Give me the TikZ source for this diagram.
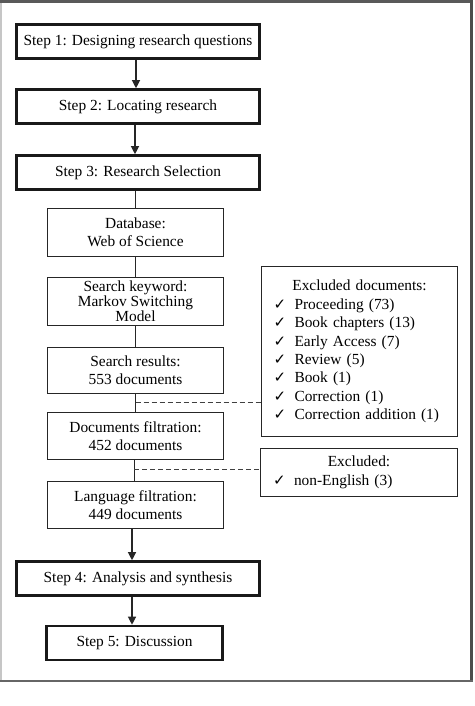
\documentclass[tikz,border=0pt]{standalone}
\usepackage{fontspec}
\setmainfont{Liberation Serif}
\newfontfamily\dejavu{DejaVu Sans}
\usetikzlibrary{arrows.meta}
\newcommand{\ck}{\makebox[21pt][l]{\dejavu\fontsize{15}{15}\selectfont ✓}}
\tikzset{
  stepbox/.style={draw=black!90, line width=2.6pt, minimum width=243pt, minimum height=34pt, inner sep=0pt, align=center, font=\fontsize{15.4}{18.4}\selectfont},
  smallbox/.style={draw=black!85, line width=1pt, minimum width=176pt, minimum height=48pt, inner sep=0pt, align=center, font=\fontsize{15.4}{18.4}\selectfont},
  exbox/.style={draw=black!85, line width=1pt, inner sep=0pt},
  extext/.style={text width=172pt, align=left, inner sep=0pt, font=\fontsize{15.4}{18.4}\selectfont},
  conn/.style={draw=black!85, line width=1pt},
  arr/.style={draw=black!85, line width=1.2pt, -{Triangle[length=8pt,width=8pt]}},
  dashconn/.style={draw=black!75, line width=1pt, dash pattern=on 5pt off 3pt},
}
\begin{document}
\begin{tikzpicture}[x=1pt,y=1pt]
\useasboundingbox (0,0) rectangle (474,-706);
\fill[white] (0,0) rectangle (474,-706);
% frame
\draw[gray!45, line width=1.6pt] (1,-1) -- (1,-681);
\draw[black!65, line width=2.6pt] (0,-1.3) -- (473,-1.3);
\draw[black!70, line width=3pt] (471.5,0) -- (471.5,-681);
\draw[black!60, line width=1.4pt] (0,-681) -- (473,-681);
% steps
\node[stepbox] (s1) at (138,-41.5) {Step 1: Designing research questions};
\node[stepbox] (s2) at (138,-106.5) {Step 2: Locating research};
\node[stepbox] (s3) at (138,-172.5) {Step 3: Research Selection};
% small boxes
\node[smallbox] (db) at (135.5,-232.5) {Database:\\Web of Science};
\node[smallbox, font=\fontsize{15.4}{15}\selectfont] (kw) at (135.5,-301.5) {Search keyword:\\Markov Switching\\Model};
\node[smallbox, minimum height=46pt] (sr) at (135.5,-370.5) {Search results:\\553 documents};
\node[smallbox, minimum height=47pt] (df) at (135.5,-436) {Documents filtration:\\452 documents};
\node[smallbox, minimum height=47pt] (lf) at (135.5,-505) {Language filtration:\\449 documents};
\node[stepbox] (s4) at (138,-578.5) {Step 4: Analysis and synthesis};
\node[stepbox, minimum width=176pt] (s5) at (134.5,-643) {Step 5: Discussion};
% excluded boxes
\node[exbox, minimum width=196pt, minimum height=170pt] (ex1) at (359.5,-351.5) {};
\node[extext] (ex1t) at (ex1.center) {\makebox[\linewidth][c]{Excluded documents:}\\
\ck Proceeding (73)\\
\ck Book chapters (13)\\
\ck Early Access (7)\\
\ck Review (5)\\
\ck Book (1)\\
\ck Correction (1)\\
\ck Correction addition (1)};
\node[exbox, minimum width=197pt, minimum height=48pt] (ex2) at (359,-472.5) {};
\node[extext] (ex2t) at (ex2.center) {\makebox[\linewidth][c]{Excluded:}\\
\ck non-English (3)};
% connectors
\draw[arr] ([xshift=-2pt]s1.south) -- ([xshift=-2pt]s1.south |- s2.north);
\draw[arr] ([xshift=-3pt]s2.south) -- ([xshift=-3pt]s2.south |- s3.north);
\draw[conn] ([xshift=-3pt]s3.south) -- ([xshift=-3pt]s3.south |- db.north);
\draw[conn] (db.south) -- (kw.north);
\draw[conn] (kw.south) -- (sr.north);
\draw[conn] (sr.south) -- (df.north);
\draw[dashconn] (sr.south |- 0,-402) coordinate (d1) -- (d1 -| ex1.west);
\draw[conn] ([xshift=-1.5pt]df.south) -- ([xshift=-1.5pt]df.south |- lf.north);
\draw[dashconn] ([xshift=-1.5pt]df.south |- 0,-469) coordinate (d2) -- (d2 -| ex2.west);
\draw[arr] ([xshift=-3.5pt]lf.south) -- ([xshift=-3.5pt]lf.south |- s4.north);
\draw[arr] ([xshift=-6pt]s4.south) -- ([xshift=-6pt]s4.south |- s5.north);
\end{tikzpicture}
\end{document}
